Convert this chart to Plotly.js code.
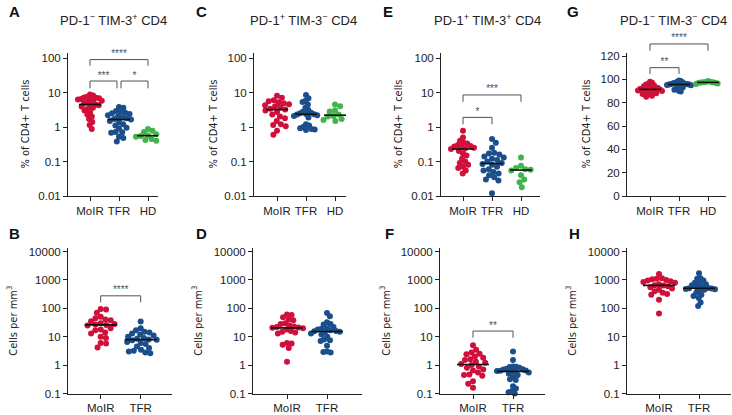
<!DOCTYPE html>
<html><head><meta charset="utf-8">
<script src="https://cdn.plot.ly/plotly-3.0.1.min.js"></script>
<style>html,body{margin:0;padding:0;background:#fff}#chart{width:732px;height:415px}</style>
</head><body><div id="chart"></div>
<script>
// ---------- data ----------
const cats3 = ['MoIR', 'TFR', 'HD'];
const cats2 = ['MoIR', 'TFR'];
const logTicksTop = [0.01, 0.1, 1, 10, 100];
const logTickTextTop = ['0.01', '0.1', '1', '10', '100'];
const logTicksBottom = [0.1, 1, 10, 100, 1000, 10000];
const logTickTextBottom = ['0.1', '1', '10', '100', '1000', '10000'];
const linTicksG = [0, 20, 40, 60, 80, 100, 120];

// A: PD-1- TIM-3+ CD4 (% of CD4+ T cells)
const A_MoIR = [8.8, 8.2, 7.5, 7.2, 7.0, 6.8, 6.5, 6.3, 6.0, 5.8, 5.5, 5.2, 4.9, 4.5, 4.3, 4.1, 3.9, 3.6, 3.3, 3.0, 2.7, 2.3, 2.0, 1.7, 1.4, 1.15, 0.88];
const A_TFR = [3.8, 3.6, 2.9, 2.7, 2.6, 2.5, 2.4, 2.2, 2.0, 1.9, 1.8, 1.7, 1.65, 1.5, 1.35, 1.2, 1.1, 0.95, 0.9, 0.72, 0.7, 0.68, 0.52, 0.48, 0.38];
const A_HD = [0.88, 0.78, 0.72, 0.62, 0.57, 0.55, 0.52, 0.45, 0.42, 0.4];
// C: PD-1+ TIM-3- CD4
const C_MoIR = [8.0, 7.0, 6.0, 5.6, 5.2, 4.9, 4.6, 4.3, 4.0, 3.7, 3.4, 3.2, 3.0, 2.7, 2.3, 2.0, 1.8, 1.5, 1.2, 1.15, 1.05, 0.78, 0.6];
const C_TFR = [8.5, 6.8, 5.8, 5.3, 4.5, 3.6, 3.1, 2.8, 2.6, 2.5, 2.4, 2.35, 2.3, 2.2, 2.1, 1.9, 1.2, 1.1, 1.0, 0.92, 0.88, 0.85, 0.82];
const C_HD = [4.5, 4.0, 3.0, 2.8, 2.3, 2.1, 2.0, 1.7, 1.6, 1.5];
// E: PD-1+ TIM-3+ CD4
const E_MoIR = [0.78, 0.5, 0.4, 0.35, 0.33, 0.3, 0.28, 0.27, 0.26, 0.25, 0.24, 0.23, 0.2, 0.17, 0.15, 0.12, 0.1, 0.09, 0.08, 0.07, 0.065, 0.055, 0.045];
const E_TFR = [0.45, 0.35, 0.25, 0.18, 0.17, 0.16, 0.14, 0.13, 0.12, 0.11, 0.1, 0.09, 0.085, 0.08, 0.07, 0.06, 0.055, 0.05, 0.045, 0.04, 0.035, 0.03, 0.028, 0.012];
const E_HD = [0.13, 0.075, 0.065, 0.06, 0.058, 0.055, 0.04, 0.03, 0.025, 0.018];
// G: PD-1- TIM-3- CD4
const G_MoIR = [98, 97, 96, 95.5, 95, 94, 93.5, 93, 92.5, 92, 91.8, 91.5, 91.4, 91.2, 91, 90.5, 90, 89.5, 89, 88.5, 88, 87.5, 87, 86, 85];
const G_TFR = [99, 98.5, 98, 97.5, 97, 96.8, 96.5, 96.2, 96, 95.8, 95.7, 95.6, 95.5, 95.2, 95, 94.5, 94, 93.5, 93, 92, 91, 90, 89.5];
const G_HD = [98.5, 98, 97.8, 97.6, 97.5, 97.3, 97, 96.8, 96.5, 96];
// B: cells per mm3, PD-1- TIM-3+
const B_MoIR = [95, 90, 70, 50, 45, 40, 38, 35, 30, 28, 27, 26, 25, 20, 18, 17, 14, 13, 10, 9, 6, 5.8, 4.2];
const B_TFR = [34, 20, 17, 15, 14, 13, 12, 11, 10, 9, 8.5, 8, 7.8, 7.5, 6.5, 6, 5.5, 4.5, 4, 3.5, 3.2, 3, 2.8, 2.6];
// D
const D_MoIR = [60, 58, 48, 40, 38, 30, 28, 25, 23, 22, 21, 20.5, 20, 18, 16, 15, 14, 13, 6.0, 5.8, 5.2, 4.0, 1.3];
const D_TFR = [68, 52, 32, 28, 27, 22, 20, 19, 18, 17, 16, 15.5, 15, 14, 13, 12, 10, 8, 7.5, 7, 4.8, 3, 2.9, 2.8];
// F
const F_MoIR = [5.0, 3.5, 2.8, 2.5, 2.4, 2.0, 1.8, 1.6, 1.5, 1.3, 1.2, 1.1, 1.0, 0.9, 0.8, 0.7, 0.65, 0.55, 0.47, 0.45, 0.42, 0.27, 0.22, 0.16];
const F_TFR = [3.0, 1.5, 0.9, 0.88, 0.85, 0.8, 0.75, 0.72, 0.7, 0.65, 0.63, 0.62, 0.6, 0.58, 0.55, 0.5, 0.45, 0.38, 0.32, 0.3, 0.18, 0.15, 0.12, 0.11, 0.1];
// H
const H_MoIR = [1600, 1150, 1100, 1050, 1000, 950, 900, 850, 800, 700, 650, 630, 600, 550, 500, 450, 400, 350, 320, 300, 200, 65];
const H_TFR = [1700, 1150, 1100, 950, 800, 750, 700, 650, 600, 550, 520, 510, 500, 480, 470, 450, 420, 350, 300, 270, 230, 160, 120];

// significance brackets: from/to category index, bracket value, leg value, label
const sigA = [{from: 0, to: 2, y: 90, leg: 60, label: '****'}, {from: 0, to: 0.93, y: 21.5, leg: 13.2, label: '***'}, {from: 1.07, to: 2, y: 21.5, leg: 13.2, label: '*'}];
const sigE = [{from: 0, to: 2, y: 8.5, leg: 5.4, label: '***'}, {from: 0, to: 1, y: 1.9, leg: 1.2, label: '*'}];
const sigG = [{from: 0, to: 2, y: 130.3, leg: 124.5, label: '****'}, {from: 0, to: 1, y: 110, leg: 104.6, label: '**'}];
const sigB = [{from: 0, to: 1, y: 275, leg: 162, label: '****'}];
const sigF = [{from: 0, to: 1, y: 15.8, leg: 9.2, label: '**'}];

// ---------- styling / geometry ----------
const W = 732, H = 415;
const colors = ['#d0103a', '#1b4f8c', '#43b44a'];
const FONT = 'Liberation Sans, Arial, Helvetica, sans-serif';
const NARROW = 'Liberation Sans Narrow, DejaVu Sans Condensed, Arial Narrow, sans-serif';
const SIGCOL = '#505050';

const panels = [
  {n: 1, letter: 'A', title: 'PD-1<sup>−</sup> TIM-3<sup>+</sup> CD4', groups: [A_MoIR, A_TFR, A_HD], cats: cats3, sig: sigA,
   x0: 68, x1: 158, c0: 90, step: 29, top: 53, bottom: 196, type: 'log', base: 0.01, ppu: 34.5, letterX: 15, titleX: 113, ylabX: 25},
  {n: 2, letter: 'C', title: 'PD-1<sup>+</sup> TIM-3<sup>−</sup> CD4', groups: [C_MoIR, C_TFR, C_HD], cats: cats3, sig: [],
   x0: 254, x1: 346, c0: 277, step: 29, top: 53, bottom: 196, type: 'log', base: 0.01, ppu: 34.5, letterX: 202, titleX: 303, ylabX: 213},
  {n: 3, letter: 'E', title: 'PD-1<sup>+</sup> TIM-3<sup>+</sup> CD4', groups: [E_MoIR, E_TFR, E_HD], cats: cats3, sig: sigE,
   x0: 441, x1: 540, c0: 463, step: 29, top: 53, bottom: 196, type: 'log', base: 0.01, ppu: 34.5, letterX: 388, titleX: 487, ylabX: 398},
  {n: 4, letter: 'G', title: 'PD-1<sup>−</sup> TIM-3<sup>−</sup> CD4', groups: [G_MoIR, G_TFR, G_HD], cats: cats3, sig: sigG,
   x0: 627, x1: 726, c0: 650, step: 29, top: 53, bottom: 196, type: 'linear', base: 0, ppu: 140 / 120, letterX: 573, titleX: 673, ylabX: 586},
  {n: 5, letter: 'B', groups: [B_MoIR, B_TFR], cats: cats2, sig: sigB,
   x0: 68, x1: 172, c0: 100.7, step: 40, top: 248, bottom: 393.5, type: 'log', base: 0.1, ppu: 28.4, letterX: 15, ylabX: 13},
  {n: 6, letter: 'D', groups: [D_MoIR, D_TFR], cats: cats2, sig: [],
   x0: 253, x1: 362, c0: 287, step: 40, top: 248, bottom: 393.5, type: 'log', base: 0.1, ppu: 28.4, letterX: 202, ylabX: 198},
  {n: 7, letter: 'F', groups: [F_MoIR, F_TFR], cats: cats2, sig: sigF,
   x0: 440, x1: 545, c0: 473, step: 40, top: 248, bottom: 393.5, type: 'log', base: 0.1, ppu: 28.4, letterX: 389, ylabX: 386},
  {n: 8, letter: 'H', groups: [H_MoIR, H_TFR], cats: cats2, sig: [],
   x0: 627, x1: 731, c0: 659, step: 40, top: 248, bottom: 393.5, type: 'log', base: 0.1, ppu: 28.4, letterX: 574, ylabX: 572}
];

function median(a) {
  const s = a.slice().sort((p, q) => p - q);
  const m = Math.floor(s.length / 2);
  return s.length % 2 ? s[m] : (s[m - 1] + s[m]) / 2;
}

// beeswarm offsets (in pixels) computed from values, then compressed to a max half width
function swarm(values, toPx, D, maxHalf) {
  const pts = values.map((v, i) => ({i: i, y: toPx(v), x: 0}));
  pts.sort((a, b) => a.y - b.y);
  const placed = [];
  let flip = 1;
  for (const p of pts) {
    const cands = [0];
    for (const q of placed) {
      const dy = Math.abs(q.y - p.y);
      if (dy < D) {
        const dx = Math.sqrt(D * D - dy * dy);
        cands.push(q.x + dx, q.x - dx);
      }
    }
    cands.sort((a, b) => (Math.abs(a) - Math.abs(b)) || (flip * (a - b)));
    flip = -flip;
    for (const c of cands) {
      if (placed.every(q => (q.x - c) * (q.x - c) + (q.y - p.y) * (q.y - p.y) >= D * D - 1e-6)) { p.x = c; break; }
    }
    placed.push(p);
  }
  let mx = 0;
  pts.forEach(p => { mx = Math.max(mx, Math.abs(p.x)); });
  const k = mx > maxHalf ? maxHalf / mx : 1;
  const out = new Array(values.length);
  pts.forEach(p => { out[p.i] = p.x * k; });
  return out;
}

const traces = [];
const layout = {
  width: W, height: H, margin: {l: 0, r: 0, t: 0, b: 0},
  paper_bgcolor: '#ffffff', plot_bgcolor: 'rgba(0,0,0,0)',
  showlegend: false, font: {family: FONT, size: 11, color: '#222222'},
  annotations: []
};

panels.forEach(P => {
  const xa = P.n === 1 ? 'x' : 'x' + P.n;
  const ya = P.n === 1 ? 'y' : 'y' + P.n;
  const h = P.bottom - P.top;
  let yrange, tickvals, ticktext;
  if (P.type === 'log') {
    const b = Math.log10(P.base);
    yrange = [b, b + h / P.ppu];
    tickvals = P.n <= 4 ? logTicksTop : logTicksBottom;
    ticktext = P.n <= 4 ? logTickTextTop : logTickTextBottom;
  } else {
    yrange = [0, h / P.ppu];
    tickvals = linTicksG;
    ticktext = linTicksG.map(String);
  }
  const axCommon = {showline: true, linecolor: '#222222', linewidth: 1, ticks: 'outside', ticklen: 4, tickcolor: '#222222',
    tickwidth: 1, showgrid: false, zeroline: false, fixedrange: true, tickfont: {family: FONT, size: 11.5, color: '#222222'}};
  layout['xaxis' + (P.n === 1 ? '' : P.n)] = Object.assign({}, axCommon, {
    domain: [P.x0 / W, P.x1 / W], range: [(P.x0 - P.c0) / P.step, (P.x1 - P.c0) / P.step],
    tickvals: P.cats.map((c, i) => i), ticktext: P.cats, anchor: ya,
    tickfont: {family: FONT, size: 11.5, color: '#222222'}
  });
  layout['yaxis' + (P.n === 1 ? '' : P.n)] = Object.assign({}, axCommon, {
    domain: [1 - P.bottom / H, 1 - P.top / H], type: P.type, range: yrange,
    tickvals: tickvals, ticktext: ticktext, anchor: xa
  });

  const toPx = P.type === 'log' ? (v => -Math.log10(v) * P.ppu) : (v => -v * P.ppu);
  const maxHalf = P.n <= 4 ? 12 : 16;
  P.groups.forEach((vals, gi) => {
    const off = swarm(vals, toPx, 5.4, maxHalf);
    traces.push({
      type: 'scatter', mode: 'markers', xaxis: xa, yaxis: ya,
      x: vals.map((v, i) => gi + off[i] / P.step), y: vals,
      marker: {size: 6, color: colors[gi], line: {width: 0}}, cliponaxis: false, hoverinfo: 'y'
    });
  });
  P.groups.forEach((vals, gi) => {
    const m = median(vals);
    const hw = P.n <= 4 ? 0.38 : 0.4;
    traces.push({type: 'scatter', mode: 'lines', xaxis: xa, yaxis: ya, x: [gi - hw, gi + hw], y: [m, m],
      line: {color: '#111111', width: 1.6}, hoverinfo: 'skip'});
  });

  // significance
  let sya = ya;
  if (P.type === 'linear' && P.sig.length) {
    const extTop = 25;
    sya = 'y9';
    layout.yaxis9 = {domain: [1 - P.bottom / H, 1 - extTop / H], range: [0, (P.bottom - extTop) / P.ppu],
      visible: false, anchor: xa, fixedrange: true, showgrid: false, zeroline: false};
  }
  P.sig.forEach(s => {
    traces.push({type: 'scatter', mode: 'lines', xaxis: xa, yaxis: sya,
      x: [s.from, s.from, s.to, s.to], y: [s.leg, s.y, s.y, s.leg],
      line: {color: SIGCOL, width: 1}, marker: {color: SIGCOL}, hoverinfo: 'skip', cliponaxis: false});
    traces.push({type: 'scatter', mode: 'text', xaxis: xa, yaxis: sya,
      x: [(s.from + s.to) / 2], y: [s.y], text: [s.label], textposition: 'top center',
      textfont: {family: FONT, size: 10, color: SIGCOL}, marker: {color: SIGCOL}, cliponaxis: false, hoverinfo: 'skip'});
  });

  // letter, title, y label
  const letterY = P.n <= 4 ? 11 : 233;
  layout.annotations.push({xref: 'paper', yref: 'paper', x: P.letterX / W, y: 1 - letterY / H, text: '<b>' + P.letter + '</b>',
    showarrow: false, xanchor: 'center', yanchor: 'middle', font: {family: FONT, size: 15, color: '#111111'}});
  if (P.title) {
    layout.annotations.push({xref: 'paper', yref: 'paper', x: P.titleX / W, y: 1 - 20 / H, text: P.title,
      showarrow: false, xanchor: 'center', yanchor: 'middle', font: {family: FONT, size: 13, color: '#222222'}});
  }
  const ylab = P.n <= 4 ? '% of CD4+ T cells' : 'Cells per mm<sup>3</sup>';
  layout.annotations.push({xref: 'paper', yref: 'paper', x: P.ylabX / W, y: 1 - ((P.top + P.bottom) / 2) / H, text: ylab,
    textangle: -90, showarrow: false, xanchor: 'center', yanchor: 'middle', font: {family: NARROW, size: 11, color: '#222222'}});
});

Plotly.newPlot('chart', traces, layout, {staticPlot: true, displayModeBar: false});
</script>
</body></html>
